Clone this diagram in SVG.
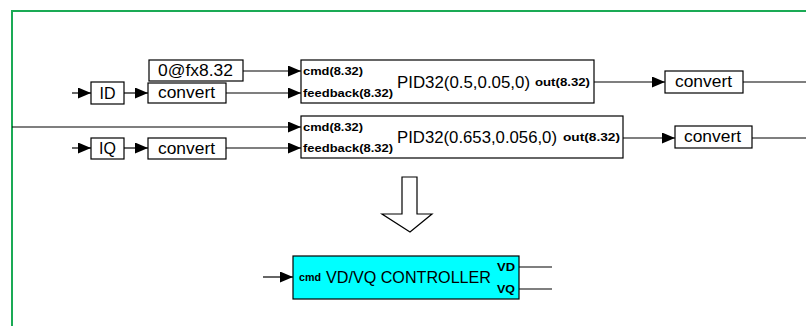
<svg xmlns="http://www.w3.org/2000/svg" width="806" height="326" viewBox="0 0 806 326">
<style>
.box{fill:#fff;stroke:#000;stroke-width:1.2}
.t{font-family:"Liberation Sans",Arial,sans-serif;font-size:16px;fill:#000}
.big{font-family:"Liberation Sans",Arial,sans-serif;font-size:17px;fill:#000}
.s{font-family:"Liberation Sans",Arial,sans-serif;font-size:11px;font-weight:bold;fill:#000}
.w{fill:none;stroke:#000;stroke-width:1.2}
.a{fill:none;stroke:#000;stroke-width:1.2;marker-end:url(#ah)}
</style>
<defs>
<marker id="ah" markerUnits="userSpaceOnUse" markerWidth="13" markerHeight="11" refX="13" refY="5.5" orient="auto">
<path d="M0,0 L13,5.5 L0,11 z" fill="#000"/>
</marker>
</defs>
<rect width="806" height="326" fill="#fff"/>
<path d="M12,326 V11 H806" fill="none" stroke="#1aaa55" stroke-width="2"/>
<g id="connectors">
<path class="a" d="M72,93 H91"/>
<path class="a" d="M124,93 H148"/>
<path class="a" d="M243,71 H301"/>
<path class="a" d="M226,93 H301"/>
<path class="a" d="M12,127 H301"/>
<path class="a" d="M72,148 H91"/>
<path class="a" d="M124,148 H148"/>
<path class="a" d="M226,148 H301"/>
<path class="a" d="M594,82 H665"/>
<path class="w" d="M743,82 H806"/>
<path class="a" d="M623,138 H675"/>
<path class="w" d="M752,138 H806"/>
<path class="a" d="M263,277 H293"/>
<path class="w" d="M519,267 H552"/>
<path class="w" d="M519,289 H552"/>
</g>
<g id="id-node">
<rect class="box" x="91" y="82" width="33" height="22"/>
<text class="t" x="107.5" y="99" font-size="15" text-anchor="middle">ID</text>
</g>
<g id="iq-node">
<rect class="box" x="91" y="138" width="33" height="21"/>
<text class="t" x="107.5" y="154" font-size="15" text-anchor="middle">IQ</text>
</g>
<g id="const-node">
<rect class="box" x="149" y="60" width="94" height="21"/>
<text class="t" x="158" y="76" textLength="75" lengthAdjust="spacingAndGlyphs">0@fx8.32</text>
</g>
<g id="convert1">
<rect class="box" x="148" y="83" width="78" height="20"/>
<text class="t" x="158" y="98" textLength="57" lengthAdjust="spacingAndGlyphs">convert</text>
</g>
<g id="convert2">
<rect class="box" x="148" y="138" width="78" height="21"/>
<text class="t" x="158" y="154" textLength="57" lengthAdjust="spacingAndGlyphs">convert</text>
</g>
<g id="pid1">
<rect class="box" x="301" y="60" width="293" height="43"/>
<text class="s" x="303" y="75" textLength="60" lengthAdjust="spacingAndGlyphs">cmd(8.32)</text>
<text class="s" x="303" y="97" textLength="90" lengthAdjust="spacingAndGlyphs">feedback(8.32)</text>
<text class="big" x="397" y="88" textLength="133" lengthAdjust="spacingAndGlyphs">PID32(0.5,0.05,0)</text>
<text class="s" x="535" y="86" textLength="55" lengthAdjust="spacingAndGlyphs">out(8.32)</text>
</g>
<g id="pid2">
<rect class="box" x="301" y="116" width="322" height="42"/>
<text class="s" x="303" y="131" textLength="60" lengthAdjust="spacingAndGlyphs">cmd(8.32)</text>
<text class="s" x="303" y="152" textLength="90" lengthAdjust="spacingAndGlyphs">feedback(8.32)</text>
<text class="big" x="397" y="143" textLength="160" lengthAdjust="spacingAndGlyphs">PID32(0.653,0.056,0)</text>
<text class="s" x="563" y="141" textLength="57" lengthAdjust="spacingAndGlyphs">out(8.32)</text>
</g>
<g id="convert3">
<rect class="box" x="665" y="71" width="78" height="22"/>
<text class="t" x="675" y="87" textLength="57" lengthAdjust="spacingAndGlyphs">convert</text>
</g>
<g id="convert4">
<rect class="box" x="675" y="126" width="77" height="22"/>
<text class="t" x="684" y="142" textLength="57" lengthAdjust="spacingAndGlyphs">convert</text>
</g>
<g id="block-arrow">
<path d="M402,177 H417 V214 H432 L410,232 L382,214 H402 Z" fill="#fff" stroke="#000" stroke-width="1.2"/>
</g>
<g id="controller">
<rect x="293" y="256" width="226" height="43" fill="#00ffff" stroke="#000" stroke-width="1.2"/>
<text class="s" x="299" y="281" textLength="22" lengthAdjust="spacingAndGlyphs">cmd</text>
<text class="big" x="326" y="283" textLength="165" lengthAdjust="spacingAndGlyphs">VD/VQ CONTROLLER</text>
<text class="s" x="497" y="271" font-size="12" textLength="18" lengthAdjust="spacingAndGlyphs">VD</text>
<text class="s" x="497" y="293" font-size="12" textLength="18" lengthAdjust="spacingAndGlyphs">VQ</text>
</g>
</svg>
